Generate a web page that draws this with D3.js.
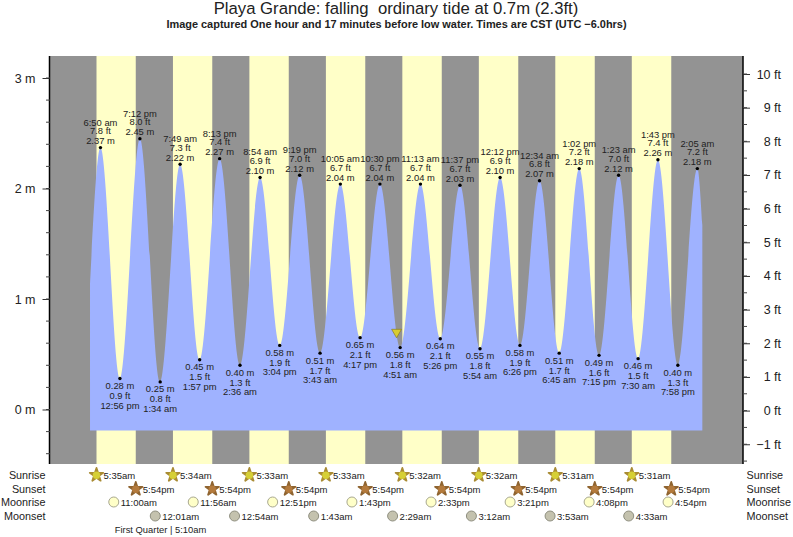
<!DOCTYPE html>
<html>
<head>
<meta charset="utf-8">
<script src="https://cdn.jsdelivr.net/npm/d3@7"></script>
<style>
  html, body { margin: 0; padding: 0; background: #fff; }
  svg { display: block; font-family: "Liberation Sans", sans-serif; }
  text { fill: #222; }
</style>
</head>
<body>
<svg id="chart" width="793" height="537"></svg>
<script>
// each time is [day index, hour of day]
const sunriseLabels = ["5:35am", "5:34am", "5:33am", "5:33am", "5:32am", "5:32am", "5:31am", "5:31am"];
const sunriseTimes = [[0, 5.583], [1, 5.567], [2, 5.55], [3, 5.55], [4, 5.533], [5, 5.533], [6, 5.517], [7, 5.517]];
const sunsetLabels = ["5:54pm", "5:54pm", "5:54pm", "5:54pm", "5:54pm", "5:54pm", "5:54pm", "5:54pm"];
const sunsetTimes = [[0, 17.9], [1, 17.9], [2, 17.9], [3, 17.9], [4, 17.9], [5, 17.9], [6, 17.9], [7, 17.9]];
const moonriseLabels = ["11:00am", "11:56am", "12:51pm", "1:43pm", "2:33pm", "3:21pm", "4:08pm", "4:54pm"];
const moonriseTimes = [[0, 11], [1, 11.933], [2, 12.85], [3, 13.717], [4, 14.55], [5, 15.35], [6, 16.133], [7, 16.9]];
const moonsetLabels = ["12:01am", "12:54am", "1:43am", "2:29am", "3:12am", "3:53am", "4:33am"];
const moonsetTimes = [[1, 0.017], [2, 0.9], [3, 1.717], [4, 2.483], [5, 3.2], [6, 3.883], [7, 4.55]];

// high and low waters
const tideTimes = [
  [0, 6.833], [0, 12.933], [0, 19.2], [1, 1.567], [1, 7.817], [1, 13.95], [1, 20.217], [2, 2.6],
  [2, 8.9], [2, 15.067], [2, 21.317], [3, 3.717], [3, 10.083], [3, 16.283], [3, 22.5], [4, 4.85],
  [4, 11.217], [4, 17.433], [4, 23.617], [5, 5.9], [5, 12.2], [5, 18.433], [6, 0.567], [6, 6.75],
  [6, 13.033], [6, 19.25], [7, 1.383], [7, 7.5], [7, 13.717], [7, 19.967], [8, 2.083]
];
const tideMeters = [
  2.37, 0.28, 2.45, 0.25, 2.22, 0.45, 2.27, 0.40, 2.10, 0.58, 2.12, 0.51, 2.04, 0.65, 2.04, 0.56,
  2.04, 0.64, 2.03, 0.55, 2.10, 0.58, 2.07, 0.51, 2.18, 0.49, 2.12, 0.46, 2.26, 0.40, 2.18
];
const tideFeet = [
  "7.8", "0.9", "8.0", "0.8", "7.3", "1.5", "7.4", "1.3", "6.9", "1.9", "7.0", "1.7", "6.7", "2.1", "6.7", "1.8",
  "6.7", "2.1", "6.7", "1.8", "6.9", "1.9", "6.8", "1.7", "7.2", "1.6", "7.0", "1.5", "7.4", "1.3", "7.2"
];
const tideClock = [
  "6:50 am", "12:56 pm", "7:12 pm", "1:34 am", "7:49 am", "1:57 pm", "8:13 pm", "2:36 am",
  "8:54 am", "3:04 pm", "9:19 pm", "3:43 am", "10:05 am", "4:17 pm", "10:30 pm", "4:51 am",
  "11:13 am", "5:26 pm", "11:37 pm", "5:54 am", "12:12 pm", "6:26 pm", "12:34 am", "6:45 am",
  "1:02 pm", "7:15 pm", "1:23 am", "7:30 am", "1:43 pm", "7:58 pm", "2:05 am"
];
// where the drawn curve starts and stops
const curveStart = { time: [0, 3.55], meters: 1.14 };
const curveEnd = { time: [8, 3.65], meters: 1.67 };
const nowMarker = { time: [4, 3.567], meters: 0.7 };
const meterTicks = [0, 1, 2, 3];
const footTicks = [-1, 0, 1, 2, 3, 4, 5, 6, 7, 8, 9, 10];

const svg = d3.select("#chart");
const plot = { left: 50, right: 743, top: 56, bottom: 464 };
const floorY = 430.5;

const hours = (t) => t[0] * 24 + t[1];
// midnight of the first day sits at x = 78.7, 76.5 px per day
const x = d3.scaleLinear().domain([0, 24]).range([78.7, 155.2]);
const y = d3.scaleLinear().domain([0, 3]).range([409.5, 78]);
const yFt = d3.scaleLinear().domain([0, 10]).range([410.6, 74]);

// background: night then daylight bands
svg.append("rect")
  .attr("x", plot.left).attr("y", plot.top)
  .attr("width", plot.right - plot.left).attr("height", plot.bottom - plot.top)
  .attr("fill", "#939393");

svg.append("g").selectAll("rect")
  .data(sunriseTimes)
  .join("rect")
  .attr("x", (d) => x(hours(d)))
  .attr("y", plot.top)
  .attr("width", (d, i) => x(hours(sunsetTimes[i])) - x(hours(d)))
  .attr("height", plot.bottom - plot.top)
  .attr("fill", "#ffffc8");

// tide area
const tidePoints = tideTimes.map((t, i) => ({ t: hours(t), m: tideMeters[i] }));
const curvePoints = [
  { t: hours(curveStart.time), m: curveStart.meters },
  ...tidePoints,
  { t: hours(curveEnd.time), m: curveEnd.meters },
];
const area = d3.area()
  .x((d) => x(d.t))
  .y0(floorY)
  .y1((d) => y(d.m))
  .curve(d3.curveMonotoneX);
svg.append("path").datum(curvePoints).attr("d", area).attr("fill", "#9fb2ff");

// axes
const axisLeft = d3.axisLeft(y).tickValues(meterTicks).tickSize(7).tickPadding(7).tickFormat((d) => d + " m");
const gLeft = svg.append("g").attr("transform", `translate(${plot.left - 0.5},0)`).call(axisLeft);
const axisRight = d3.axisRight(yFt).tickValues(footTicks).tickSize(7).tickPadding(7)
  .tickFormat((d) => (d < 0 ? "\u2212" + -d : d) + " ft");
const gRight = svg.append("g").attr("transform", `translate(${plot.right},0)`).call(axisRight);
gLeft.select(".domain").remove();
gRight.select(".domain").remove();
gLeft.selectAll("line").attr("stroke", "#333");
gRight.selectAll("line").attr("stroke", "#333");
gLeft.selectAll("text").attr("font-size", 12.5).attr("font-family", "Liberation Sans");
gRight.selectAll("text").attr("font-size", 12.5).attr("font-family", "Liberation Sans")
  .attr("text-anchor", "end").attr("x", 38);

svg.append("line").attr("x1", plot.left - 0.5).attr("x2", plot.left - 0.5)
  .attr("y1", plot.top).attr("y2", plot.bottom).attr("stroke", "#000").attr("stroke-width", 1.5);
svg.append("line").attr("x1", plot.right).attr("x2", plot.right)
  .attr("y1", plot.top).attr("y2", plot.bottom).attr("stroke", "#000").attr("stroke-width", 1.5);

// minor ticks
svg.append("g").selectAll("line")
  .data(d3.range(-2, 16).map((d) => d / 5))
  .join("line")
  .attr("x1", plot.left - 4).attr("x2", plot.left)
  .attr("y1", (d) => y(d)).attr("y2", (d) => y(d))
  .attr("stroke", "#444");
svg.append("g").selectAll("line")
  .data(d3.range(-3, 21).map((d) => d / 2))
  .join("line")
  .attr("x1", plot.right).attr("x2", plot.right + 4)
  .attr("y1", (d) => yFt(d)).attr("y2", (d) => yFt(d))
  .attr("stroke", "#444");

// extreme points and their labels
const marks = svg.append("g");
marks.selectAll("circle")
  .data(tidePoints)
  .join("circle")
  .attr("cx", (d) => x(d.t)).attr("cy", (d) => y(d.m))
  .attr("r", 1.7).attr("fill", "#000");

const labels = marks.append("g").attr("font-size", 9.4).attr("text-anchor", "middle");
tidePoints.forEach((d, i) => {
  const px = x(d.t), py = y(d.m);
  const high = i % 2 === 0;
  const lines = high
    ? [[tideClock[i], py - 22], [tideFeet[i] + " ft", py - 13.5], [d.m.toFixed(2) + " m", py - 3.5]]
    : [[d.m.toFixed(2) + " m", py + 10.5], [tideFeet[i] + " ft", py + 20.5], [tideClock[i], py + 30]];
  lines.forEach(([txt, ty]) => {
    labels.append("text").attr("x", px).attr("y", ty).text(txt);
  });
});

// current level marker
const nowX = x(hours(nowMarker.time)), nowY = y(nowMarker.meters);
svg.append("path")
  .attr("d", d3.symbol().type(d3.symbolTriangle).size(42))
  .attr("transform", `translate(${nowX + 0.5},${nowY}) rotate(180)`)
  .attr("fill", "#d8cc30").attr("stroke", "#8a7d20").attr("stroke-width", 0.7);

// rows under the plot
const star = d3.symbol().type(d3.symbolStar).size(56);
const rows = [
  { y: 475, times: sunriseTimes, labels: sunriseLabels, kind: "star", fill: "#d6cf36", stroke: "#a98c34" },
  { y: 489, times: sunsetTimes, labels: sunsetLabels, kind: "star", fill: "#b47a3c", stroke: "#8f6430" },
  { y: 502, times: moonriseTimes, labels: moonriseLabels, kind: "moon", fill: "#ffffc8", stroke: "#a8a890" },
  { y: 516, times: moonsetTimes, labels: moonsetLabels, kind: "moon", fill: "#c4c2ae", stroke: "#8f8f80" },
];
rows.forEach((row) => {
  const g = svg.append("g");
  row.times.forEach((t, i) => {
    const px = x(hours(t));
    if (row.kind === "star") {
      // round stroke fattens the star's arms
      g.append("path").attr("d", star)
        .attr("transform", `translate(${px},${row.y})`)
        .attr("fill", row.stroke).attr("stroke", row.stroke)
        .attr("stroke-width", 1.8).attr("stroke-linejoin", "round");
      g.append("circle").attr("cx", px).attr("cy", row.y + 0.3).attr("r", 3.7)
        .attr("fill", row.fill);
    } else {
      g.append("circle").attr("cx", px).attr("cy", row.y).attr("r", 5)
        .attr("fill", row.fill).attr("stroke", row.stroke);
    }
    g.append("text").attr("x", px + 7).attr("y", row.y + 4)
      .attr("font-size", 9.5).text(row.labels[i]);
  });
});

const rowNames = ["Sunrise", "Sunset", "Moonrise", "Moonset"];
rowNames.forEach((name, i) => {
  svg.append("text").attr("x", 45.5).attr("y", rows[i].y + 4)
    .attr("text-anchor", "end").attr("font-size", 10.8).text(name);
  svg.append("text").attr("x", 746.5).attr("y", rows[i].y + 4)
    .attr("font-size", 10.8).text(name);
});

svg.append("text").attr("x", 160.5).attr("y", 533)
  .attr("text-anchor", "middle").attr("font-size", 9.4).text("First Quarter | 5:10am");

// titles
svg.append("text").attr("x", 396).attr("y", 14)
  .attr("text-anchor", "middle").attr("font-size", 16.7)
  .attr("xml:space", "preserve").text("Playa Grande: falling  ordinary tide at 0.7m (2.3ft)");
svg.append("text").attr("x", 396.5).attr("y", 28)
  .attr("text-anchor", "middle").attr("font-size", 10.95).attr("font-weight", "bold")
  .text("Image captured One hour and 17 minutes before low water. Times are CST (UTC \u22126.0hrs)");
</script>
</body>
</html>
